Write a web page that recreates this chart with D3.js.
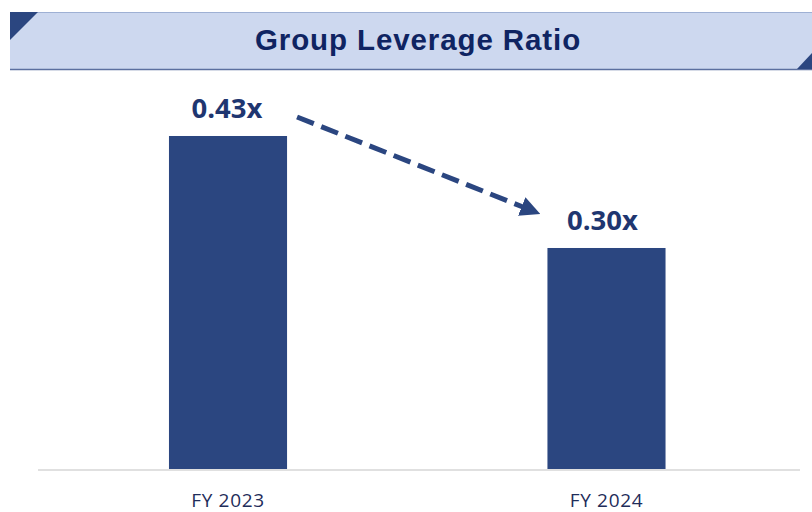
<!DOCTYPE html>
<html><head><meta charset="utf-8">
<script src="https://cdn.jsdelivr.net/npm/d3@7"></script>
<style>html,body{margin:0;padding:0;background:#fff;}svg{display:block;}</style>
</head><body>
<script>
const title = "Group Leverage Ratio";
const categories = ["FY 2023", "FY 2024"];
const values = [0.43, 0.30];
const valueLabels = ["0.43x", "0.30x"];

const W = 812, H = 512;
const svg = d3.select("body").append("svg").attr("width", W).attr("height", H);

// header band
svg.append("rect").attr("x", 10).attr("y", 12).attr("width", W - 10).attr("height", 57).attr("fill", "#cdd8ef");
svg.append("line").attr("x1", 10).attr("x2", W).attr("y1", 12.5).attr("y2", 12.5).attr("stroke", "#9eb0d4").attr("stroke-width", 1);
svg.append("line").attr("x1", 10).attr("x2", W).attr("y1", 69.5).attr("y2", 69.5).attr("stroke", "#5b6f9f").attr("stroke-width", 1.5);
svg.append("path").attr("d", "M10,12 L38,12 L10,40 Z").attr("fill", "#2b4680");
svg.append("path").attr("d", "M812,53 L812,69 L797,69 Z").attr("fill", "#2b4680");
svg.append("text").attr("x", 418).attr("y", 50).attr("text-anchor", "middle")
  .attr("font-family", "Liberation Sans, Arial, sans-serif").attr("font-weight", "bold")
  .attr("font-size", 29.5).attr("letter-spacing", 0.9).attr("fill", "#0f2462").text(title);

// scales
const x = d3.scaleBand().domain(categories).range([36.5, 798]).paddingInner(0.688).paddingOuter(0.35);
const y = d3.scaleLinear().domain([0.0423, 0.495]).range([470, 80]);

svg.selectAll("rect.bar").data(values).enter().append("rect").attr("class", "bar")
  .attr("x", (d, i) => x(categories[i])).attr("width", x.bandwidth())
  .attr("y", d => y(d)).attr("height", d => 470 - y(d)).attr("fill", "#2b4680");

svg.selectAll("text.vl").data(values).enter().append("text").attr("class", "vl")
  .attr("x", (d, i) => x(categories[i]) + x.bandwidth() / 2 - (i === 1 ? 4 : 1)).attr("y", d => y(d) - 18)
  .attr("text-anchor", "middle").attr("font-family", "Open Sans, sans-serif").attr("font-weight", "bold")
  .attr("font-size", 27.5).attr("fill", "#1f3670").text((d, i) => valueLabels[i]);

// axis
const ax = svg.append("g").attr("transform", "translate(0,470)").call(d3.axisBottom(x).tickSize(0).tickPadding(23.5));
ax.select(".domain").attr("stroke", "#e0e0e0").attr("stroke-width", 2).attr("d", "M38,0H800");
ax.selectAll("text").attr("font-family", "Open Sans, sans-serif").attr("font-size", 19)
  .attr("letter-spacing", 0.7).attr("fill", "#1f2d5a");

// dashed arrow
const defs = svg.append("defs");
defs.append("marker").attr("id", "ah").attr("viewBox", "0 0 10 10").attr("refX", 2).attr("refY", 5)
  .attr("markerWidth", 4).attr("markerHeight", 4).attr("markerUnits", "strokeWidth").attr("orient", "auto")
  .append("path").attr("d", "M0,0 L10,5 L0,10 Z").attr("fill", "#2b4680");
const x0 = x(categories[0]) + x.bandwidth() + 10, x1 = x(categories[1]) - 22;
svg.append("line").attr("x1", x0).attr("y1", y(values[0]) - 19).attr("x2", x1).attr("y2", y(values[1]) - 40)
  .attr("stroke", "#2b4680").attr("stroke-width", 5).attr("stroke-dasharray", "18,8")
  .attr("marker-end", "url(#ah)");
</script>
</body></html>
